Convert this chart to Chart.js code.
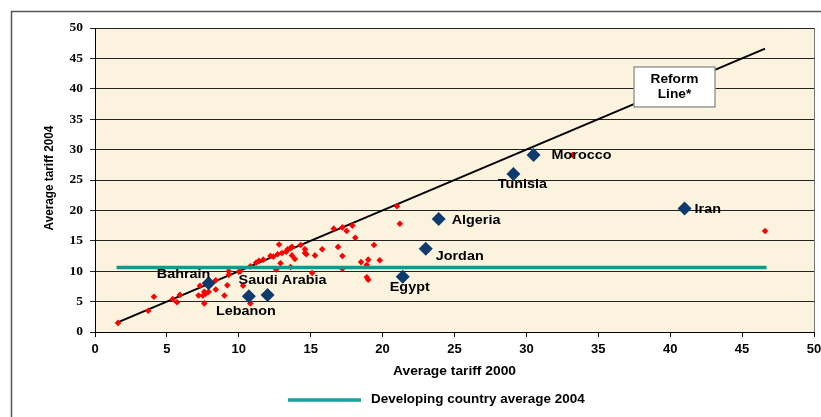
<!DOCTYPE html>
<html>
<head>
<meta charset="utf-8">
<script src="https://cdn.jsdelivr.net/npm/chart.js@4.4.1/dist/chart.umd.min.js"></script>
<style>
  html, body { margin: 0; padding: 0; background: #ffffff; }
  #wrap { width: 821px; height: 417px; }
</style>
</head>
<body>
<div id="wrap"><canvas id="chart" width="821" height="417"></canvas></div>
<script>
// MENA countries (highlighted)
let countries = ["Morocco", "Tunisia", "Iran", "Algeria", "Jordan", "Egypt", "Bahrain", "Saudi Arabia", "Lebanon"];
let countryTariff2000 = [30.5, 29.1, 41.0, 23.9, 23.0, 21.4, 7.9, 12.0, 10.7];
let countryTariff2004 = [29.1, 26.0, 20.3, 18.6, 13.7, 9.1, 8.0, 6.1, 5.9];

// other developing countries
let otherTariff2000 = [1.6, 3.7, 4.1, 5.4, 5.7, 5.9, 7.3, 7.2, 7.5, 7.6, 7.7, 7.9, 7.6, 8.4, 8.4, 9.0, 9.2, 9.3, 9.3, 10.0,
  10.1, 10.3, 10.8, 10.8, 11.2, 11.4, 11.7, 12.2, 12.4, 12.6, 12.7, 12.8, 12.9, 13.0, 13.3, 13.4, 13.6, 13.7, 13.7, 13.9,
  13.6, 14.3, 14.6, 14.6, 14.7, 15.1, 15.3, 15.8, 16.6, 16.9, 17.2, 17.2, 17.2, 17.5, 17.9, 18.1, 18.5, 18.9, 19.0, 18.9,
  19.0, 19.4, 19.8, 21.0, 21.2, 33.2, 46.6];
let otherTariff2004 = [1.5, 3.5, 5.8, 5.4, 4.9, 6.1, 7.6, 6.0, 6.0, 6.6, 6.3, 6.6, 4.7, 8.5, 7.0, 6.0, 7.7, 10.0, 9.4, 9.9,
  10.0, 7.6, 10.8, 4.7, 11.4, 11.7, 11.9, 12.5, 12.4, 10.3, 12.8, 14.4, 11.3, 13.0, 13.2, 13.6, 13.8, 14.0, 12.6, 12.0,
  10.7, 14.3, 13.6, 13.0, 12.8, 9.7, 12.6, 13.6, 17.0, 14.0, 12.5, 10.4, 17.2, 16.6, 17.5, 15.5, 11.5, 11.0, 11.9, 9.0,
  8.6, 14.3, 11.8, 20.7, 17.8, 29.1, 16.6];

// reform line (2004 = 2000) and developing country average 2004
let reformRange = [1.5, 46.6];
let reformLabelAt = 40.3;
let devAverage2004 = 10.6;
let devAverageRange = [1.5, 46.7];

let xTicks = [0, 5, 10, 15, 20, 25, 30, 35, 40, 45, 50];
let yTicks = [0, 5, 10, 15, 20, 25, 30, 35, 40, 45, 50];

// label placement next to each diamond (pixel offsets, align)
let labelPlace = {
  "Morocco": [18, 0, "left"],
  "Tunisia": [9, 11, "center"],
  "Iran": [10, 1, "left"],
  "Algeria": [13, 2, "left"],
  "Jordan": [10, 8, "left"],
  "Egypt": [7, 11, "center"],
  "Bahrain": [-25, -9, "center"],
  "Saudi Arabia": [15, -14, "center"],
  "Lebanon": [-3, 15, "center"],
};

let teal = "#17968f";
let sans = "'Liberation Sans', Arial";

function stretchedText(ctx, text, x, y, align, font, sx) {
  ctx.save();
  ctx.font = font;
  ctx.textBaseline = "middle";
  ctx.textAlign = align;
  ctx.translate(x, y);
  ctx.scale(sx, 1);
  ctx.fillText(text, 0, 0);
  ctx.restore();
}

//background, borders and all the text around the plot
let decorations = {
  id: "decorations",
  beforeDraw(chart) {
    let { ctx, chartArea: a } = chart;
    ctx.save();
    ctx.fillStyle = "#fcf3df";
    ctx.fillRect(a.left, a.top, a.right - a.left, a.bottom - a.top);
    //outer frame
    ctx.strokeStyle = "#555";
    ctx.lineWidth = 1.5;
    ctx.beginPath();
    ctx.moveTo(11.5, 430);
    ctx.lineTo(11.5, 11.5);
    ctx.lineTo(830, 11.5);
    ctx.stroke();
    ctx.restore();
  },
  afterDraw(chart) {
    let { ctx, chartArea: a, scales } = chart;
    let xs = scales.x, ys = scales.y;
    ctx.save();
    //right edge of plot
    ctx.strokeStyle = "#777";
    ctx.lineWidth = 1;
    ctx.beginPath();
    ctx.moveTo(a.right + 0.5, a.top);
    ctx.lineTo(a.right + 0.5, a.bottom);
    ctx.stroke();

    ctx.fillStyle = "#000";
    //country labels
    countries.forEach((c, i) => {
      let p = labelPlace[c];
      let px = xs.getPixelForValue(countryTariff2000[i]) + p[0];
      let py = ys.getPixelForValue(countryTariff2004[i]) + p[1];
      stretchedText(ctx, c, px, py, p[2], "bold 12.5px " + sans, 1.15);
    });

    //reform line box
    let bx = xs.getPixelForValue(reformLabelAt);
    let by = ys.getPixelForValue(reformLabelAt);
    ctx.fillStyle = "#ffffff";
    ctx.strokeStyle = "#666";
    ctx.lineWidth = 1;
    ctx.fillRect(bx - 41, by - 20.5, 82, 41);
    ctx.strokeRect(bx - 40.5, by - 20, 81, 40);
    ctx.fillStyle = "#000";
    stretchedText(ctx, "Reform", bx, by - 7, "center", "bold 12.5px " + sans, 1.1);
    stretchedText(ctx, "Line*", bx, by + 8, "center", "bold 12.5px " + sans, 1.1);

    //axis titles
    stretchedText(ctx, "Average tariff 2000", (a.left + a.right) / 2, 372, "center", "bold 12px " + sans, 1.15);
    ctx.save();
    ctx.translate(50, 178);
    ctx.rotate(-Math.PI / 2);
    stretchedText(ctx, "Average tariff 2004", 0, 0, "center", "bold 12px " + sans, 0.98);
    ctx.restore();

    //legend
    ctx.strokeStyle = "#1aa39c";
    ctx.lineWidth = 3.5;
    ctx.beginPath();
    ctx.moveTo(288, 400);
    ctx.lineTo(361, 400);
    ctx.stroke();
    ctx.fillStyle = "#000";
    stretchedText(ctx, "Developing country average 2004", 371, 400, "left", "bold 12px " + sans, 1.12);
    ctx.restore();
  },
};

let ctx = document.getElementById("chart");

let myChart = new Chart(ctx, {
  type: "scatter",
  data: {
    datasets: [
      {
        label: "MENA",
        data: countries.map((c, i) => ({ x: countryTariff2000[i], y: countryTariff2004[i] })),
        pointStyle: "rectRot",
        pointRadius: 7,
        backgroundColor: "#0d3b6e",
        borderColor: "#0d3b6e",
        borderWidth: 0,
        order: 1,
      },
      {
        label: "Developing country average 2004",
        type: "line",
        data: devAverageRange.map((x) => ({ x: x, y: devAverage2004 })),
        borderColor: teal,
        borderWidth: 3.5,
        pointRadius: 0,
        order: 2,
      },
      {
        label: "Other countries",
        data: otherTariff2000.map((x, i) => ({ x: x, y: otherTariff2004[i] })),
        pointStyle: "rectRot",
        pointRadius: 3.3,
        backgroundColor: "#ff0000",
        borderColor: "#ff0000",
        borderWidth: 0,
        order: 3,
      },
      {
        label: "Reform line",
        type: "line",
        data: reformRange.map((x) => ({ x: x, y: x })),
        borderColor: "#000000",
        borderWidth: 2,
        pointRadius: 0,
        order: 4,
      },
    ],
  },
  plugins: [decorations],
  options: {
    responsive: false,
    animation: false,
    layout: { padding: { top: 28, right: 6, left: 0, bottom: 0 } },
    plugins: {
      legend: { display: false },
      tooltip: { enabled: false },
    },
    scales: {
      x: {
        type: "linear",
        min: 0,
        max: 50,
        afterBuildTicks: (s) => { s.ticks = xTicks.map((v) => ({ value: v })); },
        afterFit: (s) => {
          s.height = 85;
          s.paddingLeft = 0;
          s.paddingRight = 0;
        },
        grid: { drawOnChartArea: false, drawTicks: true, tickLength: 5, color: "#000" },
        border: { color: "#000", width: 1 },
        ticks: {
          padding: 5,
          color: "#000",
          font: { family: sans, weight: "bold", size: 13 },
        },
      },
      y: {
        type: "linear",
        min: 0,
        max: 50,
        afterBuildTicks: (s) => { s.ticks = yTicks.map((v) => ({ value: v })); },
        afterFit: (s) => {
          s.width = 95;
          s.paddingTop = 0;
          s.paddingBottom = 0;
        },
        grid: { color: "#222", lineWidth: 1, drawTicks: true, tickLength: 5 },
        border: { color: "#000", width: 1 },
        ticks: {
          padding: 7,
          color: "#000",
          font: { family: "'Liberation Serif', 'Times New Roman', serif", weight: "bold", size: 13.5 },
        },
      },
    },
  },
});
</script>
</body>
</html>
